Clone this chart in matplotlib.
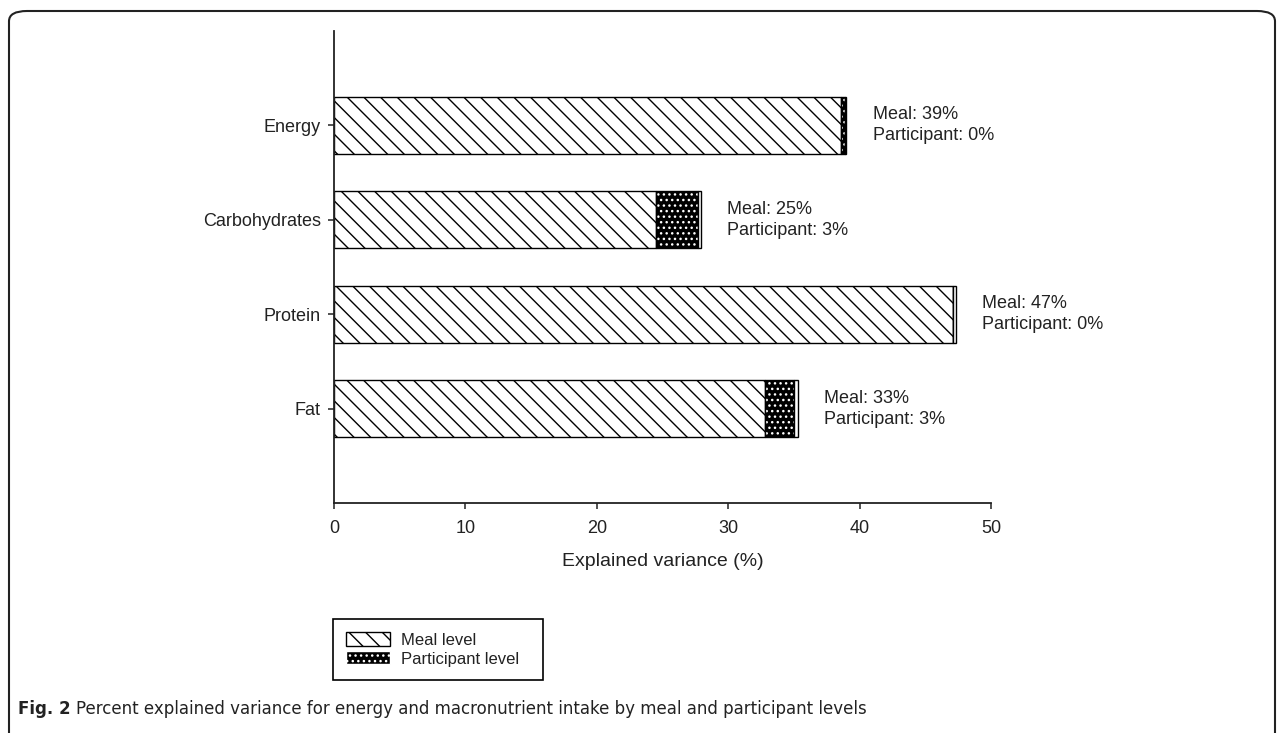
import matplotlib.pyplot as plt
from matplotlib.patches import FancyBboxPatch, Patch

# values (explained variance, %)
categories = ["Energy", "Carbohydrates", "Protein", "Fat"]
meal = [38.6, 24.5, 47.1, 32.8]
participant = [0.3, 3.2, 0.0, 2.2]
other = [0.1, 0.2, 0.2, 0.3]
meal_lbl = ["39%", "25%", "47%", "33%"]
part_lbl = ["0%", "3%", "0%", "3%"]

plt.rcParams['font.family'] = ['Liberation Sans', 'DejaVu Sans']
plt.rcParams['hatch.linewidth'] = 1.0

fig = plt.figure(figsize=(12.84, 7.33), dpi=100)
ax = fig.add_axes([0.2601, 0.3138, 0.5117, 0.6439])

ypos = [3, 2, 1, 0]
h = 0.6

ax.barh(ypos, meal, height=h, color='white', edgecolor='black',
        linewidth=1.0, hatch='\\\\', label='Meal level')
# participant: black with white dots
ax.barh(ypos, participant, left=meal, height=h, color='black',
        edgecolor='white', linewidth=0, hatch='...')
ax.barh(ypos, participant, left=meal, height=h, color='none',
        edgecolor='black', linewidth=1.0)
left2 = [m + p for m, p in zip(meal, participant)]
ax.barh(ypos, other, left=left2, height=h, color='white',
        edgecolor='black', linewidth=1.0)

for y, m, p, o, ml, pl in zip(ypos, meal, participant, other, meal_lbl, part_lbl):
    ax.text(m + p + o + 2.0, y, "Meal: " + ml + "\nParticipant: " + pl,
            va='center', ha='left', fontsize=13, color='#222222',
            linespacing=1.3)

ax.set_xlim(0, 50)
ax.set_ylim(-1, 4)
ax.set_xticks([0, 10, 20, 30, 40, 50])
ax.set_yticks(ypos)
ax.set_yticklabels(categories)
ax.tick_params(direction='out', length=4.5, width=1.1, labelsize=13,
               colors='#222222', labelcolor='#222222')
ax.tick_params(axis='x', pad=8)
ax.tick_params(axis='y', pad=5)
for s in ['top', 'right']:
    ax.spines[s].set_visible(False)
for s in ['left', 'bottom']:
    ax.spines[s].set_linewidth(1.3)
    ax.spines[s].set_color('#222222')
ax.set_xlabel("Explained variance (%)", fontsize=14, labelpad=11,
              color='#222222')

handles = [Patch(facecolor='white', edgecolor='black', hatch='\\\\', label='Meal level'),
           Patch(facecolor='black', edgecolor='white', hatch='...', label='Participant level')]
leg = fig.legend(handles=handles, loc='upper left',
                 bbox_to_anchor=(0.2593, 0.0737, 0.1636, 0.0818), mode='expand',
                 borderaxespad=0, fancybox=False, edgecolor='black',
                 fontsize=12, handlelength=2.6, handleheight=0.85,
                 handletextpad=0.7, labelspacing=0.2, borderpad=0.8,
                 framealpha=1)
leg.get_frame().set_linewidth(1.2)
for t in leg.get_texts():
    t.set_color('#222222')

# outer rounded frame
frame = FancyBboxPatch((9 / 1284, -0.05), (1275 - 9) / 1284, (722 / 733) + 0.05,
                       boxstyle="round,pad=0,rounding_size=0.014",
                       transform=fig.transFigure, fill=False,
                       edgecolor='#222222', linewidth=1.5)
fig.patches.append(frame)

# caption
cap_font = ['Liberation Sans Narrow', 'DejaVu Sans']
t1 = fig.text(18 / 1284, 1 - 709 / 733, "Fig. 2", fontsize=12, fontweight='bold',
              family=cap_font, va='center', ha='left', color='#222222')
fig.canvas.draw()
bb = t1.get_window_extent()
fig.text((bb.x1 + 5) / 1284, 1 - 709 / 733,
         "Percent explained variance for energy and macronutrient intake by meal and participant levels",
         fontsize=12, family=cap_font, va='center', ha='left', color='#222222')

fig.savefig("out.png", dpi=100)
